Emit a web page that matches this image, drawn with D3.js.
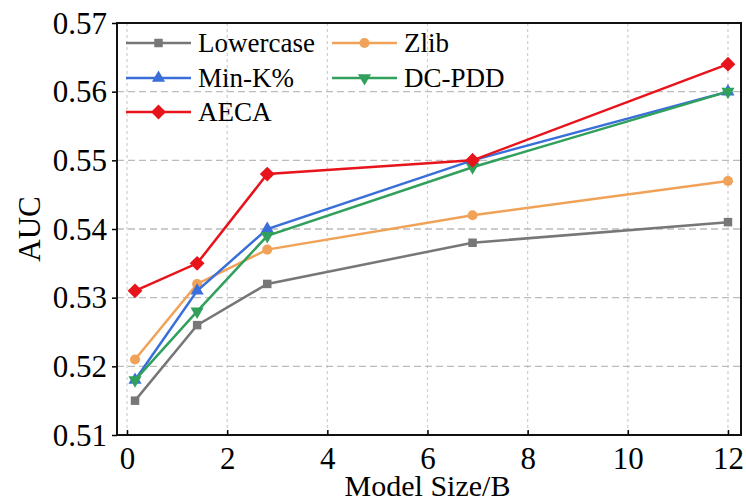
<!DOCTYPE html>
<html>
<head>
<meta charset="utf-8">
<script src="https://cdn.jsdelivr.net/npm/d3@7"></script>
<style>
  body { margin: 0; background: #fff; }
  svg text { font-family: "Liberation Serif", "Times New Roman", serif !important; }
</style>
</head>
<body>
<svg id="chart"></svg>
<script>
const modelSizes = [0.16, 1.4, 2.8, 6.9, 12];
const seriesNames = ["Lowercase", "Zlib", "Min-K%", "DC-PDD", "AECA"];
const lowercase = [0.515, 0.526, 0.532, 0.538, 0.541];
const zlib = [0.521, 0.532, 0.537, 0.542, 0.547];
const minK = [0.518, 0.531, 0.540, 0.550, 0.560];
const dcPdd = [0.518, 0.528, 0.539, 0.549, 0.560];
const aeca = [0.531, 0.535, 0.548, 0.550, 0.564];
const xTicks = [0, 2, 4, 6, 8, 10, 12];
const yTicks = [0.51, 0.52, 0.53, 0.54, 0.55, 0.56, 0.57];

const width = 746, height = 503;
const margin = { top: 23, right: 5, bottom: 68, left: 117 };
const innerWidth = width - margin.left - margin.right;
const innerHeight = height - margin.top - margin.bottom;
const serif = "Liberation Serif";

const diamond = { draw(ctx, size) { const r = Math.sqrt(size / 2); ctx.moveTo(0, -r); ctx.lineTo(r, 0); ctx.lineTo(0, r); ctx.lineTo(-r, 0); ctx.closePath(); } };

const series = [
  { name: seriesNames[0], values: lowercase, color: "#777777", symbol: d3.symbolSquare, size: 72, rot: 0 },
  { name: seriesNames[1], values: zlib, color: "#f0a258", symbol: d3.symbolCircle, size: 80, rot: 0 },
  { name: seriesNames[2], values: minK, color: "#3a6fd9", symbol: d3.symbolTriangle, size: 75, rot: 0 },
  { name: seriesNames[3], values: dcPdd, color: "#30a05c", symbol: d3.symbolTriangle, size: 75, rot: 180 },
  { name: seriesNames[4], values: aeca, color: "#e8141c", symbol: diamond, size: 110, rot: 0 }
];

const svg = d3.select("#chart")
  .attr("width", width)
  .attr("height", height)
  .attr("font-family", serif);

const g = svg.append("g")
  .attr("transform", `translate(${margin.left},${margin.top})`);

const x = d3.scaleLinear().domain([-0.2, 12.26]).range([0, innerWidth]);
const y = d3.scaleLinear().domain([0.51, 0.57]).range([innerHeight, 0]);

// Grid lines
g.append("g")
  .selectAll("line")
  .data(xTicks)
  .enter()
  .append("line")
  .attr("x1", d => x(d)).attr("x2", d => x(d))
  .attr("y1", 0).attr("y2", innerHeight)
  .attr("stroke", "#cfcfcf")
  .attr("stroke-width", 1.2)
  .attr("stroke-dasharray", "3,3");

g.append("g")
  .selectAll("line")
  .data(yTicks)
  .enter()
  .append("line")
  .attr("x1", 0).attr("x2", innerWidth)
  .attr("y1", d => y(d)).attr("y2", d => y(d))
  .attr("stroke", "#bcbcbc")
  .attr("stroke-width", 1.3)
  .attr("stroke-dasharray", "7,4");

// Axes
const xAxis = g.append("g")
  .attr("transform", `translate(0,${innerHeight})`)
  .call(d3.axisBottom(x).tickValues(xTicks).tickFormat(d3.format("d")).tickSize(-5).tickPadding(12).tickSizeOuter(0));
const yAxis = g.append("g")
  .call(d3.axisLeft(y).tickValues(yTicks).tickFormat(d3.format(".2f")).tickSize(5).tickPadding(5).tickSizeOuter(0));

[xAxis, yAxis].forEach(a => {
  a.attr("font-family", serif).attr("font-size", 31);
  a.select(".domain").remove();
  a.selectAll("line").attr("stroke", "#000").attr("stroke-width", 1.5);
  a.selectAll("text")
    .attr("fill", "#000")
    .attr("font-family", serif)
    .style("font-size", "31px");
});
yAxis.selectAll("text").attr("dy", "0.33em");

// Frame
g.append("rect")
  .attr("x", 0).attr("y", 0)
  .attr("width", innerWidth).attr("height", innerHeight)
  .attr("fill", "none")
  .attr("stroke", "#111")
  .attr("stroke-width", 2);

// Lines and markers
const line = d3.line()
  .x((d, i) => x(modelSizes[i]))
  .y(d => y(d));

series.forEach(s => {
  g.append("path")
    .datum(s.values)
    .attr("fill", "none")
    .attr("stroke", s.color)
    .attr("stroke-width", 2.5)
    .attr("d", line);

  g.selectAll(null)
    .data(s.values)
    .enter()
    .append("path")
    .attr("d", d3.symbol().type(s.symbol).size(s.size))
    .attr("transform", (d, i) => `translate(${x(modelSizes[i])},${y(d)}) rotate(${s.rot})`)
    .attr("fill", s.color);
});

// Legend
const legendPos = [
  [9, 20], [215, 20],
  [9, 55], [215, 55],
  [9, 89]
];
series.forEach((s, i) => {
  const lg = g.append("g")
    .attr("transform", `translate(${legendPos[i][0]},${legendPos[i][1]})`);
  lg.append("line")
    .attr("x1", 0).attr("x2", 65)
    .attr("y1", 0).attr("y2", 0)
    .attr("stroke", s.color)
    .attr("stroke-width", 2.5);
  lg.append("path")
    .attr("d", d3.symbol().type(s.symbol).size(s.size))
    .attr("transform", `translate(32.5,0) rotate(${s.rot})`)
    .attr("fill", s.color);
  lg.append("text")
    .attr("x", 72)
    .attr("y", 0)
    .attr("dy", "0.35em")
    .attr("font-family", serif)
    .style("font-size", "27px")
    .text(s.name);
});

// Axis labels
svg.append("text")
  .attr("x", margin.left + x(6))
  .attr("y", 496)
  .attr("text-anchor", "middle")
  .attr("font-family", serif)
  .style("font-size", "30px")
  .text("Model Size/B");

svg.append("text")
  .attr("transform", `translate(40,${margin.top + innerHeight / 2}) rotate(-90)`)
  .attr("text-anchor", "middle")
  .attr("font-family", serif)
  .style("font-size", "31px")
  .text("AUC");
</script>
</body>
</html>
